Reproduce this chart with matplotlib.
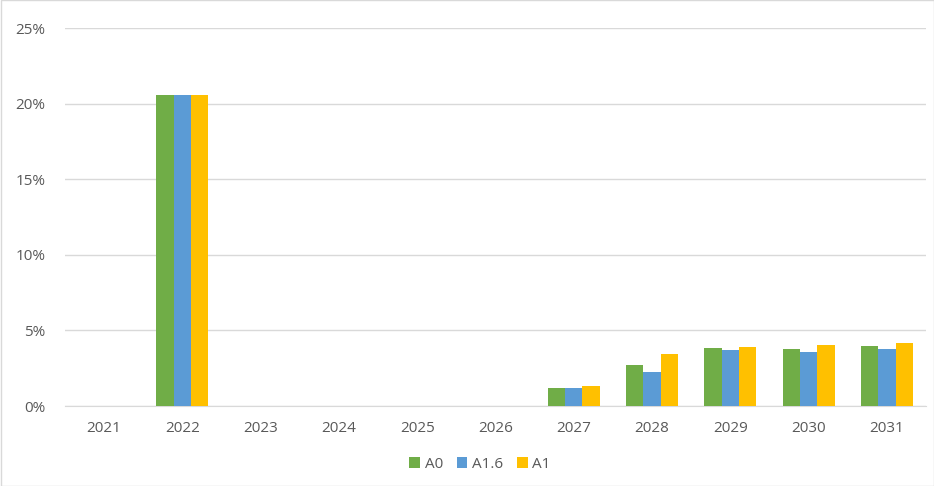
import matplotlib
matplotlib.use("Agg")
import matplotlib.pyplot as plt
import numpy as np
from matplotlib.ticker import FuncFormatter

years = ["2021", "2022", "2023", "2024", "2025", "2026", "2027", "2028", "2029", "2030", "2031"]
a0 = [0, 20.6, 0, 0, 0, 0, 1.22, 2.71, 3.82, 3.78, 3.98]
a16 = [0, 20.6, 0, 0, 0, 0, 1.20, 2.22, 3.73, 3.56, 3.78]
a1 = [0, 20.6, 0, 0, 0, 0, 1.31, 3.44, 3.91, 4.02, 4.18]
series_names = ["A0", "A1.6", "A1"]
colors = ["#70AD47", "#5B9BD5", "#FFC000"]

plt.rcParams['font.family'] = ['Open Sans', 'DejaVu Sans']
fig = plt.figure(figsize=(9.34, 4.86), dpi=100)
ax = fig.add_axes([65/934, 1-406/486, 861/934, 378/486])

x = np.arange(len(years))
w = 0.222
for i, (vals, name, c) in enumerate(zip([a0, a16, a1], series_names, colors)):
    ax.bar(x + (i-1)*w, vals, width=w, color=c, label=name, zorder=3)

ax.set_xlim(-0.5, len(years)-0.5)
ax.set_ylim(0, 25)
ax.set_yticks(np.arange(0, 26, 5))
ax.yaxis.set_major_formatter(FuncFormatter(lambda v, p: f"{int(v)}%"))
ax.set_xticks(x)
ax.set_xticklabels(years)
ax.grid(axis='y', color='#D9D9D9', linewidth=1, zorder=0)
for s in ['top', 'right', 'left']:
    ax.spines[s].set_visible(False)
ax.spines['bottom'].set_color('#D9D9D9')
ax.tick_params(axis='both', length=0, colors='#595959', labelsize=11)
ax.tick_params(axis='x', pad=11)
ax.tick_params(axis='y', pad=14)

leg = fig.legend(loc='center', bbox_to_anchor=(480/934, 1-464/486), ncol=3, frameon=False,
                 fontsize=11, handlelength=0.7, handleheight=0.7, handletextpad=0.3,
                 columnspacing=0.9)
for t in leg.get_texts():
    t.set_color('#595959')

border = plt.Rectangle((0.5/934, 0.5/486), 1-1/934, 1-1/486, transform=fig.transFigure,
                       fill=False, edgecolor='#D9D9D9', linewidth=1)
fig.patches.append(border)

fig.savefig("out.png", dpi=100)
